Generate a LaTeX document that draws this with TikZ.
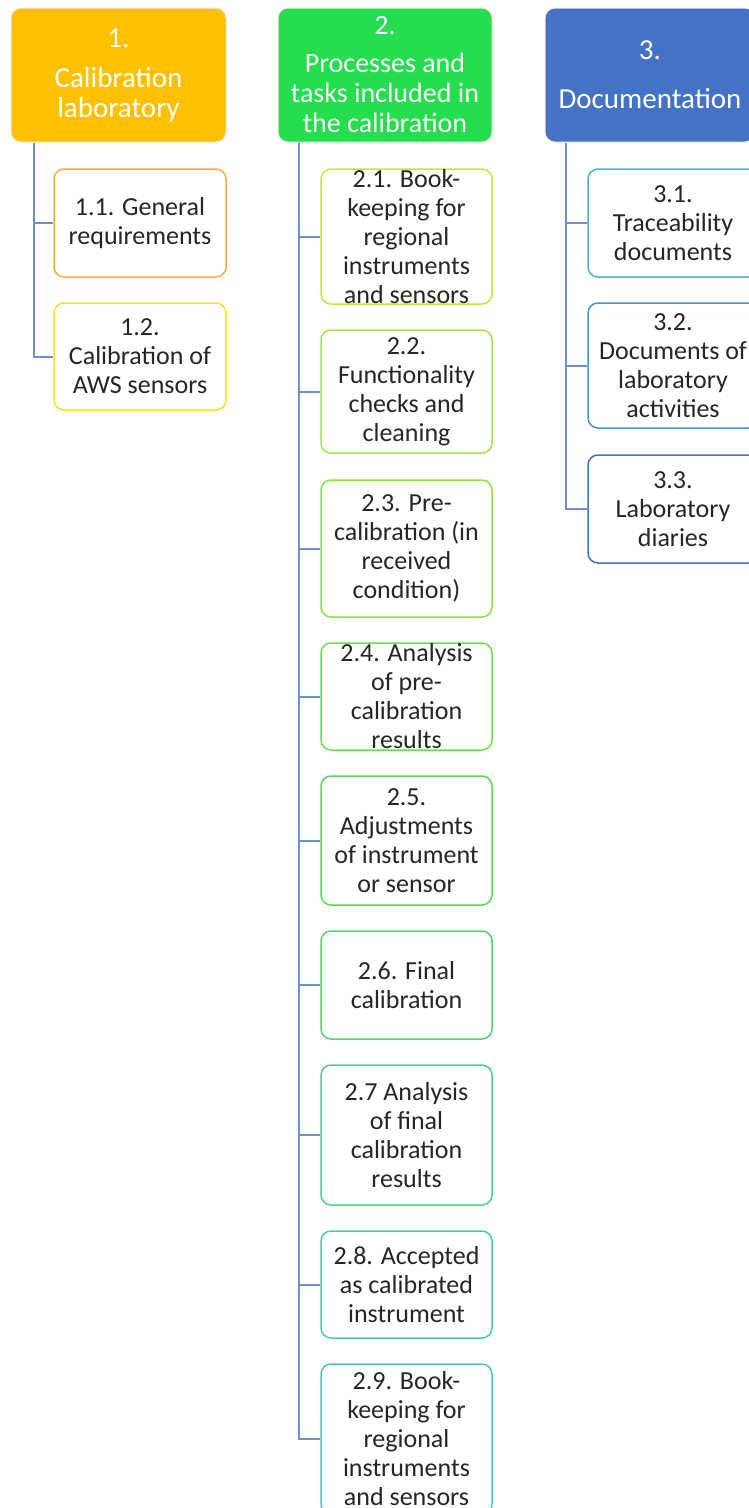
\documentclass[tikz,border=0pt]{standalone}
\usepackage{fontspec}
\setmainfont{Carlito}
\definecolor{hOne}{HTML}{FFC000}
\definecolor{hTwo}{HTML}{25DE4E}
\definecolor{hThree}{HTML}{4472C4}
\definecolor{connC}{HTML}{7090CA}
\definecolor{txtC}{HTML}{262626}
\definecolor{b11}{HTML}{F2B135}
\definecolor{b12}{HTML}{EEE430}
\definecolor{b21}{HTML}{C4E63A}
\definecolor{b22}{HTML}{A5E445}
\definecolor{b23}{HTML}{8AE24A}
\definecolor{b24}{HTML}{6DDF4C}
\definecolor{b25}{HTML}{56DC58}
\definecolor{b26}{HTML}{4ED66C}
\definecolor{b27}{HTML}{4AD088}
\definecolor{b28}{HTML}{47CCA6}
\definecolor{b29}{HTML}{4AC8C4}
\definecolor{b31}{HTML}{4AB4D0}
\definecolor{b32}{HTML}{4893C9}
\definecolor{b33}{HTML}{4472C4}
\tikzset{
  headbox/.style={rectangle, rounded corners=10pt, draw=gray!15, line width=1pt,
    text=white, align=center, inner sep=0pt, minimum height=134pt,
    font=\fontsize{29}{30}\selectfont},
  childbox/.style={rectangle, rounded corners=10pt, line width=1.5pt, fill=white,
    text=txtC, align=center, inner sep=0pt,
    font=\fontsize{26}{29}\selectfont},
  conn/.style={draw=connC, line width=2pt}
}
\begin{document}
\begin{tikzpicture}[x=1pt,y=-1pt]
\useasboundingbox (0,0) rectangle (749,1508);
\clip (0,0) rectangle (749,1508);
% headers
\node[headbox, fill=hOne, minimum width=215pt] (h1) at (118.5,75) {1.\\[10pt]Calibration\\laboratory};
\node[headbox, fill=hTwo, minimum width=214pt, font=\fontsize{28}{30}\selectfont] (h2) at (385,75) {2.\\[8pt]Processes and\\tasks included in\\the calibration};
\node[headbox, fill=hThree, minimum width=210pt] (h3) at (650,75) {3.\\[19pt]Documentation};
% column 1
\node[childbox, draw=b11, minimum width=172pt, minimum height=108pt] (c11) at (140,223) {1.1. General\\requirements};
\node[childbox, draw=b12, minimum width=172pt, minimum height=107pt] (c12) at (140,356.5) {1.2.\\Calibration of\\AWS sensors};
% column 2
\node[childbox, draw=b21, minimum width=171pt, minimum height=135pt] (c21) at (406.5,236.5) {2.1. Book-\\keeping for\\regional\\instruments\\and sensors};
\node[childbox, draw=b22, minimum width=171pt, minimum height=123pt] (c22) at (406.5,391.5) {2.2.\\Functionality\\checks and\\cleaning};
\node[childbox, draw=b23, minimum width=171pt, minimum height=137pt] (c23) at (406.5,548.5) {2.3. Pre-\\calibration (in\\received\\condition)};
\node[childbox, draw=b24, minimum width=171pt, minimum height=107pt] (c24) at (406.5,696.5) {2.4. Analysis\\of pre-\\calibration\\results};
\node[childbox, draw=b25, minimum width=171pt, minimum height=129pt] (c25) at (406.5,840.5) {2.5.\\Adjustments\\of instrument\\or sensor};
\node[childbox, draw=b26, minimum width=171pt, minimum height=108pt] (c26) at (406.5,985) {2.6. Final\\calibration};
\node[childbox, draw=b27, minimum width=171pt, minimum height=140pt] (c27) at (406.5,1135) {2.7 Analysis\\of final\\calibration\\results};
\node[childbox, draw=b28, minimum width=171pt, minimum height=107pt] (c28) at (406.5,1284.5) {2.8. Accepted\\as calibrated\\instrument};
\node[childbox, draw=b29, minimum width=171pt, minimum height=150pt] (c29) at (406.5,1439) {2.9. Book-\\keeping for\\regional\\instruments\\and sensors};
% column 3
\node[childbox, draw=b31, minimum width=170pt, minimum height=108pt] (c31) at (673,223) {3.1.\\Traceability\\documents};
\node[childbox, draw=b32, minimum width=170pt, minimum height=125pt] (c32) at (673,365.5) {3.2.\\Documents of\\laboratory\\activities};
\node[childbox, draw=b33, minimum width=170pt, minimum height=108pt] (c33) at (673,509) {3.3.\\Laboratory\\diaries};
% connectors
\foreach \c in {c11,c12}
  \draw[conn] ([xshift=23pt]h1.south west) |- (\c.west);
\foreach \c in {c21,c22,c23,c24,c25,c26,c27,c28,c29}
  \draw[conn] ([xshift=21pt]h2.south west) |- (\c.west);
\foreach \c in {c31,c32,c33}
  \draw[conn] ([xshift=21pt]h3.south west) |- (\c.west);
\end{tikzpicture}
\end{document}
